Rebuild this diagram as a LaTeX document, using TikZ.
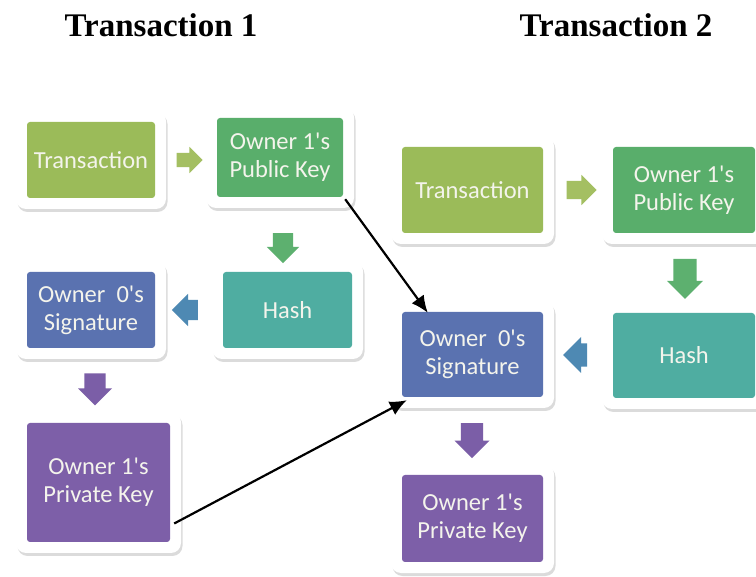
\documentclass[tikz,border=0pt]{standalone}
\usepackage{fontspec}
\setmainfont{Liberation Serif}
\newfontfamily\boxfont{Carlito}
\usetikzlibrary{shapes.arrows,shadows,calc,arrows.meta}
\definecolor{ctrans}{HTML}{9BBB59}
\definecolor{cpub}{HTML}{59AE6B}
\definecolor{chash}{HTML}{4FADA1}
\definecolor{csig}{HTML}{5A72B0}
\definecolor{cpriv}{HTML}{7D5FA8}
\definecolor{atrans}{HTML}{A4BF62}
\definecolor{apub}{HTML}{5DB06F}
\definecolor{asig}{HTML}{4E89B3}
\definecolor{apriv}{HTML}{7B5EA7}
\definecolor{btext}{HTML}{F4F4EC}
\tikzset{
  frame/.style={fill=white, rounded corners=10pt, inner sep=0pt,
    drop shadow={opacity=0.28, shadow xshift=1.5pt, shadow yshift=-3pt}},
  cbox/.style={fill=#1, rounded corners=3pt, inner sep=2pt, align=center,
    text=btext, font=\boxfont\fontsize{24.5}{28}\selectfont},
  harrow/.style={single arrow, fill=#1, inner xsep=0pt, inner ysep=9pt,
    single arrow head extend=6pt, draw=none},
  varrow/.style={single arrow, fill=#1, inner ysep=0pt, inner xsep=9pt,
    single arrow head extend=6pt, draw=none, shape border rotate=270},
  title/.style={font=\bfseries\fontsize{33}{38}\selectfont, anchor=base},
  link/.style={-{Latex[length=17pt,width=15pt]}, line width=2.2pt, black}
}
% \boxpair{name}{cx}{cy}{w}{h}{color}{text}
\newcommand\boxpair[7]{%
  \node[frame, minimum width=#4pt+22pt, minimum height=#5pt+22pt] (#1f) at (#2,#3) {};
  \node[cbox=#6, minimum width=#4pt, minimum height=#5pt] (#1) at (#2,#3) {#7};
}
\begin{document}
\begin{tikzpicture}[x=1pt,y=-1pt]
\clip (0,0) rectangle (756,577);
\fill[white] (0,0) rectangle (756,577);

\node[title] (T1) at (161,37) {Transaction 1};
\node[title] (T2) at (616,37) {Transaction 2};

% left group
\boxpair{t1}{91}{160}{128}{76}{ctrans}{Transaction}
\boxpair{pk1}{280}{157.5}{126}{79}{cpub}{Owner 1's\\Public Key}
\boxpair{h1}{287.5}{310}{129}{76}{chash}{Hash}
\boxpair{s1}{91}{310}{128}{76}{csig}{Owner\ \ 0's\\Signature}
\boxpair{pr1}{98.5}{482.5}{143}{119}{cpriv}{Owner 1's\\Private Key}

% right group
\boxpair{t2}{472.5}{190}{141}{86}{ctrans}{Transaction}
\boxpair{pk2}{684}{190}{142}{86}{cpub}{Owner 1's\\Public Key}
\boxpair{h2}{684}{355.5}{142}{85}{chash}{Hash}
\boxpair{s2}{472.5}{354.5}{141}{85}{csig}{Owner\ \ 0's\\Signature}
\boxpair{pr2}{472.5}{518.5}{141}{87}{cpriv}{Owner 1's\\Private Key}

% block arrows
\node[harrow=atrans, minimum height=26pt, minimum width=26pt, inner ysep=7pt] (a1) at (186,160) {};
\node[varrow=apub, minimum height=30pt, minimum width=32pt, inner xsep=10pt] (a2) at (283,243) {};
\node[harrow=asig, shape border rotate=180, minimum height=26pt, minimum width=32pt, inner ysep=10pt] (a3) at (190,310) {};
\node[varrow=apriv, minimum height=32pt, minimum width=34pt, inner xsep=10pt] (a4) at (95,384) {};

\node[harrow=atrans, minimum height=30pt, minimum width=30pt, inner ysep=9pt] (a5) at (577,190) {};
\node[varrow=apub, minimum height=40pt, minimum width=36pt, inner xsep=11pt] (a6) at (685,273) {};
\node[harrow=asig, shape border rotate=180, minimum height=24pt, minimum width=36pt, inner ysep=11pt] (a7) at (581,355) {};
\node[varrow=apriv, minimum height=35pt, minimum width=35pt, inner xsep=10pt] (a8) at (472,435) {};

% black links
\coordinate (l1s) at ($(pk1.south east)+(2,2)$);
\coordinate (l1e) at ($(s2.north west)+(26,1)$);
\draw[link] (l1s) -- (l1e);
\coordinate (l2s) at ($(pr1.east)+(4,41)$);
\coordinate (l2e) at ($(s2.south west)+(5,3)$);
\draw[link] (l2s) -- (l2e);
\end{tikzpicture}
\end{document}
